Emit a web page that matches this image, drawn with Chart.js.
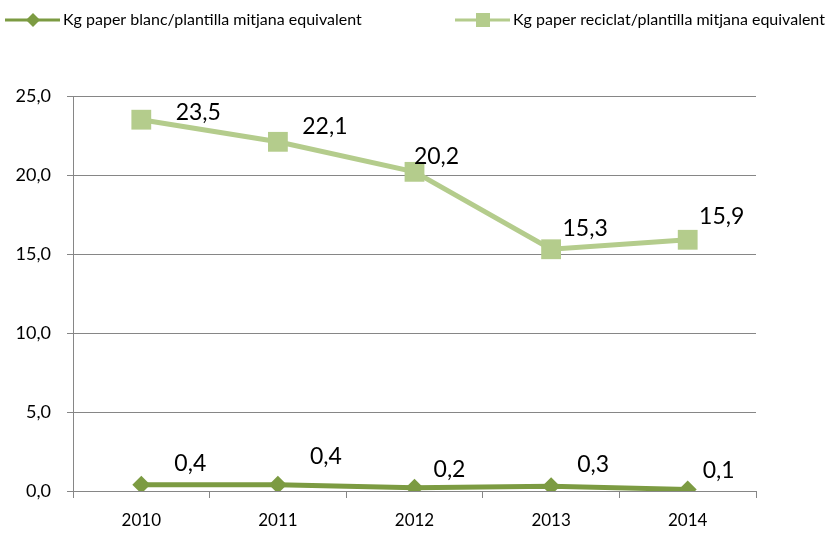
<!DOCTYPE html>
<html><head><meta charset="utf-8">
<script src="https://cdn.jsdelivr.net/npm/chart.js@4"></script>
<style>html,body{margin:0;padding:0;background:#fff}#wrap{width:830px;height:536px;position:relative}</style>
</head><body><div id="wrap"><canvas id="c" width="830" height="536"></canvas></div>
<script>
const categories = ['2010','2011','2012','2013','2014'];
const seriesNames = ['Kg paper blanc/plantilla mitjana equivalent','Kg paper reciclat/plantilla mitjana equivalent'];
const blanc = [0.4, 0.4, 0.2, 0.3, 0.1];
const reciclat = [23.5, 22.1, 20.2, 15.3, 15.9];
const yTicks = [0, 5, 10, 15, 20, 25];

// label offsets (style, pixel offsets from point to label centre)
const blancLabelOffsets = [[49,-21],[48,-28],[35,-18],[42,-22],[31,-19]];
const reciclatLabelOffsets = [[57,-7],[47,-15],[22,-15],[34,-21],[34,-23]];

const dark = '#7C9B42';
const light = '#B4CC8C';
const FONT = 'Lato, "Open Sans", sans-serif';
const fmt = v => v.toFixed(1).replace('.', ',');

const labelPlugin = {
  id: 'labels',
  afterDatasetsDraw(chart) {
    const ctx = chart.ctx;
    ctx.save();
    ctx.font = '23px ' + FONT;
    ctx.fillStyle = '#000';
    ctx.textAlign = 'center';
    ctx.textBaseline = 'middle';
    chart.data.datasets.forEach((ds, di) => {
      const meta = chart.getDatasetMeta(di);
      const offs = di === 0 ? blancLabelOffsets : reciclatLabelOffsets;
      meta.data.forEach((pt, i) => {
        ctx.fillText(fmt(ds.data[i]), pt.x + offs[i][0], pt.y + offs[i][1]);
      });
    });
    ctx.restore();
  },
  afterDraw(chart) {
    const ctx = chart.ctx;
    ctx.save();
    const items = [
      {x: 5, color: dark, style: 'diamond', text: seriesNames[0]},
      {x: 455, color: light, style: 'square', text: seriesNames[1]}
    ];
    const y = 20;
    items.forEach(it => {
      ctx.strokeStyle = it.color; ctx.lineWidth = 3;
      ctx.beginPath(); ctx.moveTo(it.x, y); ctx.lineTo(it.x + 55, y); ctx.stroke();
      ctx.fillStyle = it.color;
      const cx = it.x + 28;
      if (it.style === 'diamond') {
        ctx.beginPath(); ctx.moveTo(cx, y - 7); ctx.lineTo(cx + 7, y); ctx.lineTo(cx, y + 7); ctx.lineTo(cx - 7, y); ctx.closePath(); ctx.fill();
      } else {
        ctx.fillRect(cx - 7, y - 7, 14, 14);
      }
      ctx.fillStyle = '#000';
      ctx.font = '16px ' + FONT;
      ctx.textBaseline = 'middle';
      ctx.textAlign = 'left';
      ctx.fillText(it.text, it.x + 58, y);
    });
    ctx.restore();
  }
};

new Chart(document.getElementById('c'), {
  type: 'line',
  data: {
    labels: categories,
    datasets: [
      {label: seriesNames[0], data: blanc, borderColor: dark, backgroundColor: dark, borderWidth: 5,
       pointStyle: 'rectRot', pointRadius: 9, pointHoverRadius: 9, pointBorderWidth: 0, tension: 0},
      {label: seriesNames[1], data: reciclat, borderColor: light, backgroundColor: light, borderWidth: 5,
       pointStyle: 'rect', pointRadius: 14, pointHoverRadius: 14, pointBorderWidth: 0, tension: 0}
    ]
  },
  options: {
    responsive: false,
    animation: false,
    devicePixelRatio: 1,
    layout: {padding: {top: 96, right: 74, left: 0, bottom: 0}},
    plugins: {legend: {display: false}, tooltip: {enabled: false}},
    scales: {
      x: {
        offset: true,
        grid: {offset: true, drawOnChartArea: false, drawTicks: true, tickLength: 7, color: '#868686'},
        border: {color: '#868686', width: 1},
        ticks: {color: '#000', font: {family: FONT, size: 17}, padding: 12, maxRotation: 0},
        afterFit(s) { s.height = 45; }
      },
      y: {
        min: 0, max: 25,
        afterBuildTicks(s) { s.ticks = yTicks.map(v => ({value: v})); },
        grid: {color: '#868686', lineWidth: 1, drawTicks: true, tickLength: 6},
        border: {color: '#868686', width: 1},
        ticks: {color: '#000', font: {family: FONT, size: 18}, padding: 16, callback: v => fmt(v)},
        afterFit(s) { s.width = 73; }
      }
    }
  },
  plugins: [labelPlugin]
});
</script></body></html>
